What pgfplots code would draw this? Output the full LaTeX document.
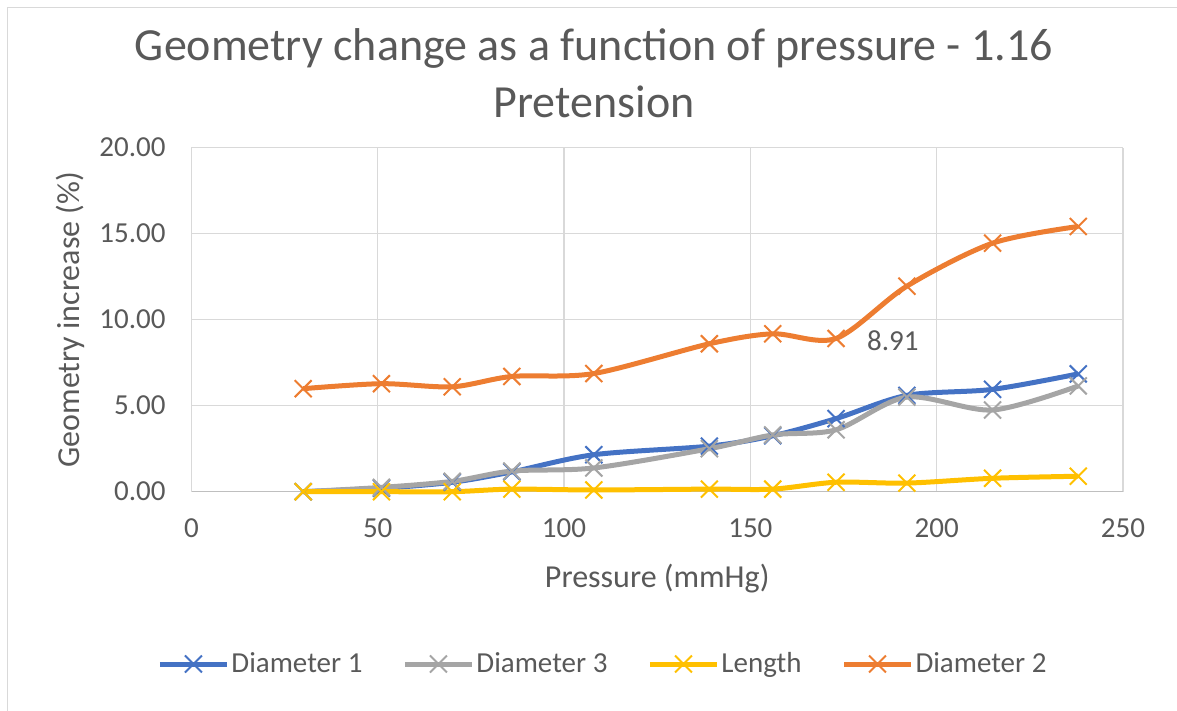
\documentclass[border=0pt]{standalone}
\usepackage{fontspec}
\setmainfont{Carlito}
\usepackage{pgfplots}
\pgfplotsset{compat=1.18}
\definecolor{cblue}{HTML}{4472C4}
\definecolor{corange}{HTML}{ED7D31}
\definecolor{cgray}{HTML}{A5A5A5}
\definecolor{cgold}{HTML}{FFC000}
\definecolor{txt}{HTML}{595959}
\definecolor{grd}{HTML}{D9D9D9}
\definecolor{axl}{HTML}{BFBFBF}
\begin{document}
\begin{tikzpicture}
\begin{axis}[
  scale only axis,
  width=465.8pt, height=172pt,
  xmin=0, xmax=250, ymin=0, ymax=20,
  xtick={0,50,...,250}, ytick={0,5,...,20},
  clip=false,
  grid=major,
  major grid style={grd, line width=0.75pt},
  axis x line*=bottom, axis y line*=left,
  x axis line style={axl, line width=0.75pt, -},
  y axis line style={grd, line width=0.75pt, -},
  major tick length=0pt,
  /pgf/number format/assume math mode=true,
  ticklabel style={font=\fontsize{14.5}{16}\selectfont, text=txt},
  yticklabel={\pgfmathprintnumber[fixed, fixed zerofill, precision=2]{\tick}},
  xticklabel={\pgfmathprintnumber[fixed, precision=0]{\tick}},
  yticklabel style={xshift=-9.4pt},
  xticklabel style={yshift=-10pt},
  xlabel={Pressure (mmHg)},
  ylabel={Geometry increase (\%)},
  every axis x label/.style={at={(axis description cs:0.5,-0.2538)}, anchor=center, font=\fontsize{16}{18}\selectfont, text=txt},
  every axis y label/.style={at={(axis description cs:-0.1303,0.5)}, anchor=center, rotate=90, font=\fontsize{16}{18}\selectfont, text=txt},
  legend columns=4,
  legend style={draw=none, fill=none, at={(axis description cs:0.4418,-0.5009)}, anchor=center,
    font=\fontsize{14.5}{16}\selectfont, text=txt,
    /tikz/every even column/.append style={column sep=19pt},
    nodes={inner sep=1pt}},
  legend image code/.code={
    \draw[#1, mark=none] (0pt,0pt) -- (33.5pt,0pt);
    \draw[#1, only marks] plot coordinates {(16.75pt,0pt)};
  },
  every axis plot/.append style={line width=2.5pt, smooth, tension=0.5, mark=x, mark size=6pt, mark options={solid, line width=1pt}},
]
\addplot[cblue] coordinates {(30,0) (51,0.2) (70,0.55) (86,1.15) (108,2.15) (139,2.65) (156,3.25) (173,4.25) (192,5.6) (215,5.95) (238,6.85)};
\addlegendentry{Diameter 1}
\addplot[cgray] coordinates {(30,0) (51,0.25) (70,0.6) (86,1.2) (108,1.38) (139,2.5) (156,3.3) (173,3.6) (192,5.5) (215,4.75) (238,6.15)};
\addlegendentry{Diameter 3}
\addplot[cgold] coordinates {(30,0) (51,0) (70,0) (86,0.15) (108,0.1) (139,0.15) (156,0.15) (173,0.55) (192,0.5) (215,0.78) (238,0.9)};
\addlegendentry{Length}
\addplot[corange] coordinates {(30,5.99) (51,6.28) (70,6.1) (86,6.7) (108,6.87) (139,8.6) (156,9.18) (173,8.91) (192,11.95) (215,14.45) (238,15.42)};
\addlegendentry{Diameter 2}
\node[anchor=west, text=txt, font=\fontsize{14.5}{16}\selectfont, xshift=12pt, yshift=-1pt] at (axis cs:173,8.91) {8.91};
\end{axis}
\node[text=txt, font=\fontsize{23}{26}\selectfont] at (201.3pt,221.85pt) {Geometry change as a function of pressure - 1.16};
\node[text=txt, font=\fontsize{23}{26}\selectfont] at (201.3pt,194.85pt) {Pretension};
\draw[grd, line width=0.75pt] (-91.95pt,-109.65pt) -- (-91.95pt,242.1pt) -- (492.8pt,242.1pt);
\pgfresetboundingbox
\path[use as bounding box] (-95.7pt,-109.65pt) rectangle (492.8pt,245.85pt);
\end{tikzpicture}
\end{document}
